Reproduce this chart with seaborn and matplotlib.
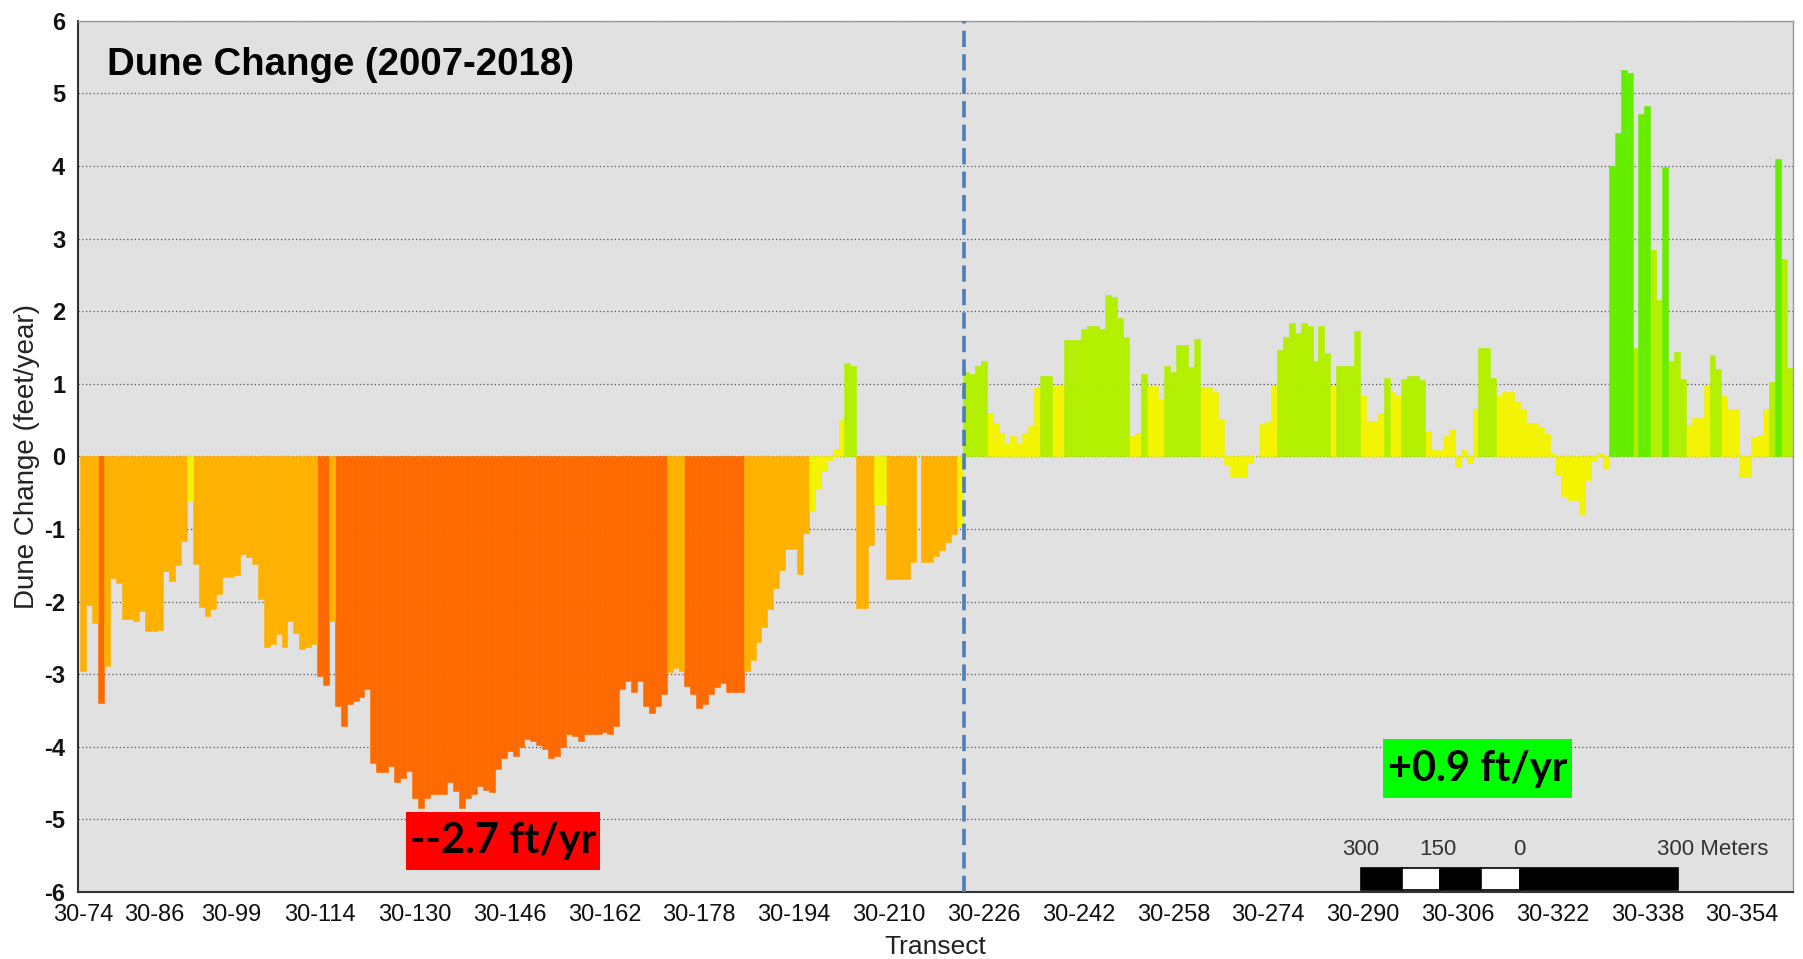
# =========================================
# Dune Change (2007-2018) - bar chart by transect
# =========================================

import numpy as np
import pandas as pd
import matplotlib
matplotlib.use("Agg")
import matplotlib.pyplot as plt
import seaborn as sns
from matplotlib.patches import Rectangle

# -----------------------------
# 1. Data
# -----------------------------
first_transect = 74

# dune change in feet/year, one value per transect 30-74 ... 30-362
dune_change = [
    -2.95, -2.05, -2.30, -3.40, -2.89, -1.67, -1.74, -2.24, -2.24, -2.27,
    -2.13, -2.40, -2.40, -2.39, -1.58, -1.72, -1.50, -1.16, -0.61, -1.48,
    -2.07, -2.20, -2.10, -1.90, -1.66, -1.66, -1.64, -1.35, -1.38, -1.48,
    -1.97, -2.63, -2.59, -2.45, -2.63, -2.27, -2.43, -2.66, -2.63, -2.59,
    -3.03, -3.15, -2.27, -3.44, -3.71, -3.41, -3.37, -3.32, -3.21, -4.22,
    -4.35, -4.35, -4.26, -4.48, -4.43, -4.33, -4.71, -4.84, -4.70, -4.65,
    -4.65, -4.65, -4.49, -4.61, -4.84, -4.70, -4.65, -4.54, -4.59, -4.62,
    -4.30, -4.15, -4.06, -4.13, -4.01, -3.90, -3.92, -3.97, -4.03, -4.16,
    -4.13, -4.01, -3.83, -3.85, -3.92, -3.82, -3.83, -3.83, -3.80, -3.83,
    -3.71, -3.20, -3.09, -3.25, -3.10, -3.44, -3.53, -3.44, -3.28, -2.97,
    -2.91, -2.95, -3.16, -3.28, -3.46, -3.41, -3.28, -3.18, -3.12, -3.25,
    -3.25, -3.25, -2.95, -2.80, -2.56, -2.35, -2.10, -1.81, -1.56, -1.28,
    -1.28, -1.62, -1.05, -0.75, -0.45, -0.20, -0.05, 0.10, 0.50, 1.29,
    1.25, -2.09, -2.09, -1.22, -0.67, -0.67, -1.69, -1.69, -1.69, -1.69,
    -1.45, 0.00, -1.46, -1.46, -1.37, -1.29, -1.18, -1.07, -0.97, 1.16,
    1.13, 1.25, 1.32, 0.60, 0.46, 0.32, 0.19, 0.28, 0.19, 0.32,
    0.42, 0.95, 1.11, 1.11, 0.98, 0.98, 1.60, 1.60, 1.60, 1.76,
    1.80, 1.80, 1.76, 2.22, 2.20, 1.90, 1.64, 0.28, 0.32, 1.13,
    0.97, 0.97, 0.79, 1.25, 1.16, 1.53, 1.53, 1.23, 1.61, 0.95,
    0.95, 0.88, 0.51, -0.12, -0.28, -0.28, -0.28, -0.09, 0.00, 0.44,
    0.47, 0.98, 1.47, 1.64, 1.84, 1.70, 1.84, 1.80, 1.31, 1.79,
    1.43, 0.98, 1.25, 1.25, 1.24, 1.73, 0.85, 0.48, 0.48, 0.60,
    1.08, 0.88, 0.85, 1.06, 1.10, 1.10, 1.05, 0.35, 0.09, 0.09,
    0.28, 0.37, -0.14, 0.09, -0.09, 0.65, 1.49, 1.49, 1.08, 0.83,
    0.88, 0.88, 0.75, 0.65, 0.46, 0.46, 0.41, 0.31, 0.05, -0.26,
    -0.55, -0.60, -0.60, -0.80, -0.33, -0.06, 0.04, -0.16, 4.00, 4.46,
    5.32, 5.28, 1.49, 4.71, 4.83, 2.84, 2.16, 3.99, 1.32, 1.44,
    1.07, 0.43, 0.53, 0.53, 0.98, 1.40, 1.20, 0.83, 0.65, 0.65,
    -0.28, -0.28, 0.26, 0.29, 0.65, 1.02, 4.10, 2.72, 1.22,
]
transects = list(range(first_transect, first_transect + len(dune_change)))

# tick labels on the x axis
tick_transects = [74, 86, 99, 114, 130, 146, 162, 178, 194, 210,
                  226, 242, 258, 274, 290, 306, 322, 338, 354]
tick_labels = [f"30-{t}" for t in tick_transects]

# colour classes (ft/yr)
class_edges = [-3, -1, 1, 3]
class_names = ["< -3", "-3 to -1", "-1 to 1", "1 to 3", "> 3"]
class_colors = ["#FF6A00", "#FFB100", "#F4F400", "#B3F000", "#66EE00"]

# split between the two reaches, mean rates
split_transect = 222.6
south_rate = "--2.7 ft/yr"
north_rate = "+0.9 ft/yr"

# scale bar labels
scale_labels = ["300", "150", "0"]

# -----------------------------
# 2. Data Preparation
# -----------------------------
df = pd.DataFrame({"transect": transects, "change": dune_change})
df["cls"] = [class_names[i] for i in np.digitize(df["change"], class_edges)]

# -----------------------------
# 3. Plot
# -----------------------------
sns.set_style("white")
plt.rcParams["font.family"] = ["Liberation Sans", "DejaVu Sans"]

fig = plt.figure(figsize=(18.03, 9.59), dpi=100)
ax = fig.add_axes([0.0431, 0.0699, 0.9514, 0.9085])
ax.set_facecolor("#E1E1E1")

sns.barplot(data=df, x="transect", y="change", hue="cls",
            hue_order=class_names, palette=dict(zip(class_names, class_colors)),
            native_scale=True, dodge=False, width=1.0, saturation=1,
            errorbar=None, legend=False, linewidth=0, ax=ax)
for p in ax.patches:
    p.set_edgecolor(p.get_facecolor())
    p.set_linewidth(0.4)

ax.set_xlim(73.1, 362.6)
ax.set_ylim(-6, 6)
ax.set_yticks(range(-6, 7))
ax.set_xticks(tick_transects)
ax.set_xticklabels(tick_labels, fontsize=17)
ax.set_yticklabels([str(v) for v in range(-6, 7)], fontsize=17, fontweight="bold")

ax.yaxis.grid(True, linestyle=(0, (1, 2)), color="#555555", linewidth=0.9)
ax.xaxis.grid(False)
ax.set_axisbelow(True)

ax.tick_params(axis="both", direction="out", length=6, width=1.2,
               color="#333333", pad=3, labelcolor="#111111")
for side in ["left", "bottom"]:
    ax.spines[side].set_color("#333333")
    ax.spines[side].set_linewidth(1.5)
for side in ["top", "right"]:
    ax.spines[side].set_color("#999999")
    ax.spines[side].set_linewidth(1.0)

ax.set_xlabel("Transect", fontsize=19, color="#222222")
ax.set_ylabel("Dune Change (feet/year)", fontsize=20, color="#222222")
ax.xaxis.set_label_coords(0.5, -0.049)
ax.yaxis.set_label_coords(-0.022, 0.5)

# split line
ax.axvline(split_transect, color="#4A7DBA", linestyle=(0, (4.5, 2.0)),
           linewidth=2.6, zorder=5)

# title inside the plot
ax.text(0.0171, 0.949, "Dune Change (2007-2018)", transform=ax.transAxes,
        fontsize=27.6, fontweight="bold", ha="left", va="center", color="black")

# mean rate boxes
ax.add_patch(Rectangle((0.1914, 0.0252), 0.1131, 0.0666, transform=ax.transAxes,
                       facecolor="#FF0000", edgecolor="none", zorder=6))
ax.text(0.248, 0.0585, south_rate, transform=ax.transAxes, fontsize=30,
        fontweight="bold", family="Lato", color="black",
        ha="center", va="center", zorder=7)
ax.add_patch(Rectangle((0.761, 0.1079), 0.110, 0.0677, transform=ax.transAxes,
                       facecolor="#00FF00", edgecolor="none", zorder=6))
ax.text(0.816, 0.1417, north_rate, transform=ax.transAxes, fontsize=30,
        fontweight="bold", family="Lato", color="black",
        ha="center", va="center", zorder=7)

# scale bar
seg_edges = [0.7482, 0.7723, 0.7939, 0.8182, 0.8410, 0.9330]
for i in range(len(seg_edges) - 1):
    ax.add_patch(Rectangle((seg_edges[i], 0.0023), seg_edges[i + 1] - seg_edges[i], 0.0252,
                           transform=ax.transAxes, zorder=6,
                           facecolor="black" if i % 2 == 0 else "white",
                           edgecolor="black", linewidth=1.2))
for lab, xpos in zip(scale_labels, [0.7477, 0.7931, 0.8402]):
    ax.text(xpos, 0.0482, lab, transform=ax.transAxes, fontsize=16,
            ha="center", va="center", color="#333333", zorder=7)
ax.text(0.9207, 0.0482, "300 Meters", transform=ax.transAxes, fontsize=16,
        ha="left", va="center", color="#333333", zorder=7)

fig.savefig("out.png", dpi=100)
